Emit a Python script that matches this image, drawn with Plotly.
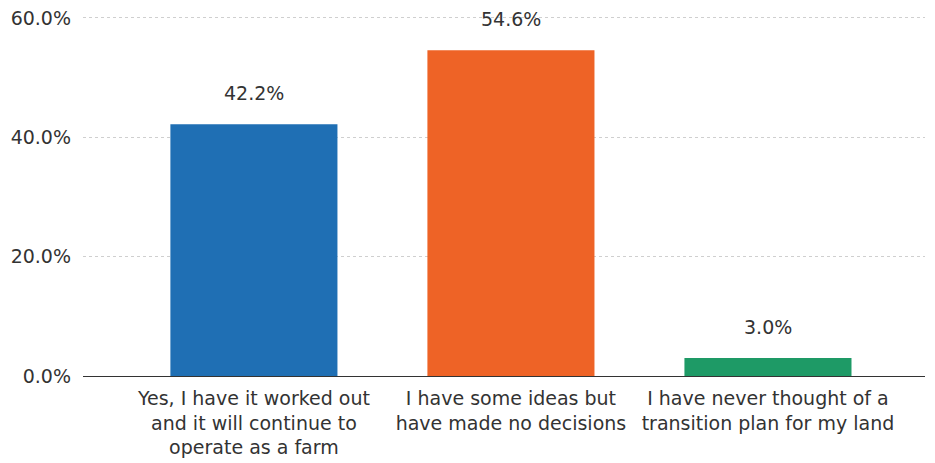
import plotly.graph_objects as go

categories = [
    "Yes, I have it worked out<br>and it will continue to<br>operate as a farm",
    "I have some ideas but<br>have made no decisions",
    "I have never thought of a<br>transition plan for my land",
]
values = [42.2, 54.6, 3.0]
labels = ["42.2%", "54.6%", "3.0%"]
colors = ["#1f6fb4", "#ee6326", "#1e9a66"]
y_ticks = [0, 20, 40, 60]
y_tick_labels = ["0.0%", "20.0%", "40.0%", "60.0%"]

FS = 19
fig = go.Figure()
fig.add_trace(go.Bar(
    x=list(range(len(categories))),
    y=values,
    marker=dict(color=colors, line=dict(width=0)),
    width=0.65,
    hoverinfo="skip",
))
for i, (v, t) in enumerate(zip(values, labels)):
    fig.add_annotation(x=i, y=v, text=t, showarrow=False, yanchor="bottom",
                       yshift=18, font=dict(size=FS, color="#333333"))

fig.update_layout(
    width=935, height=463,
    margin=dict(l=75, r=18, t=4, b=95),
    paper_bgcolor="white", plot_bgcolor="white",
    font=dict(family="DejaVu Sans", size=FS, color="#333333"),
    showlegend=False,
    xaxis=dict(
        range=[-0.665, 2.611],
        tickvals=list(range(len(categories))),
        ticktext=categories,
        showgrid=False, zeroline=False,
        showline=True, linecolor="#333333", linewidth=1,
        ticks="", tickfont=dict(size=FS, color="#333333"),
        automargin=False,
        ticklabelstandoff=5,
    ),
    yaxis=dict(
        range=[0, 61],
        tickvals=y_ticks, ticktext=y_tick_labels,
        showgrid=True, gridcolor="#cfcfcf", griddash="dot", gridwidth=1,
        zeroline=False, showline=False,
        ticks="", ticklen=0,
        tickfont=dict(size=FS, color="#333333"),
        automargin=False,
        ticklabelstandoff=11,
        ticklabeloverflow="allow",
    ),
)
fig.write_html("out.html")
